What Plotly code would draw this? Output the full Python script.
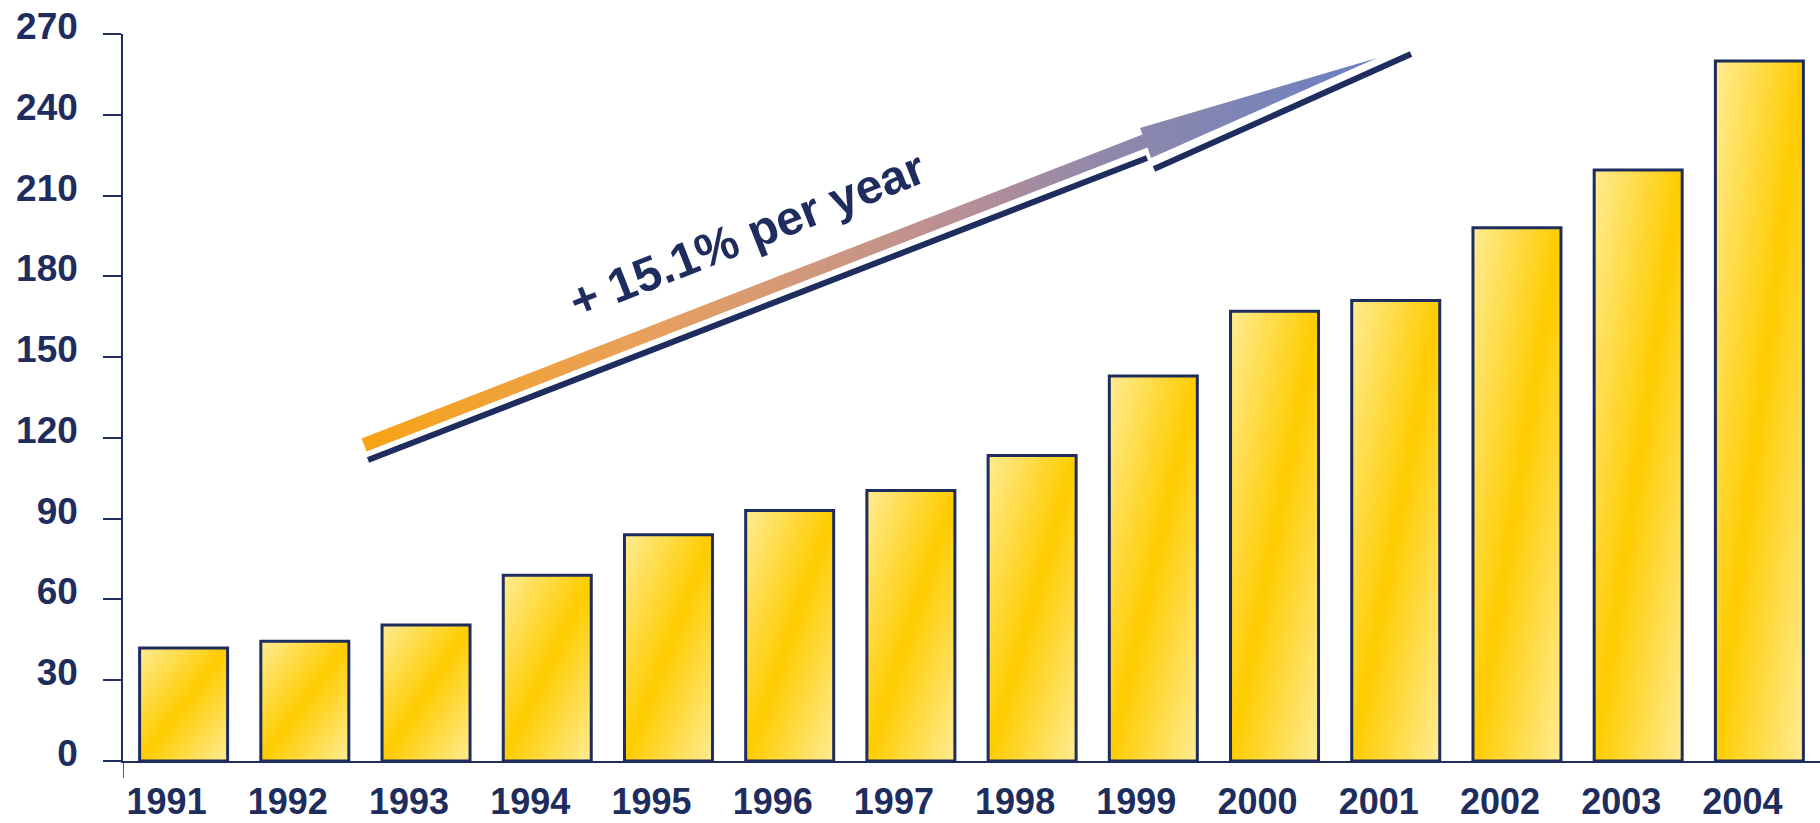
import base64
import plotly.graph_objects as go

# ---- data ----
YEARS = [1991, 1992, 1993, 1994, 1995, 1996, 1997, 1998, 1999, 2000, 2001, 2002, 2003, 2004]
YEAR_LABELS = [str(y) for y in YEARS]
VALUES = [42, 44.5, 50.5, 69, 84, 93, 100.5, 113.5, 143, 167, 171, 198, 219.5, 260]
Y_TICKS = [0, 30, 60, 90, 120, 150, 180, 210, 240, 270]
GROWTH_LABEL = "+ 15.1% per year"

# ---- style ----
NAVY = "#1E2D5E"
FONT = "Liberation Sans, Arial, sans-serif"
W, H = 1820, 823
M_L, M_R, M_T, M_B = 123, 0, 34, 62
X_RANGE = [1990.5, 2004.5]
Y_RANGE = [0, 270]
BAR_W = 0.726

PLOT_W = W - M_L - M_R
PLOT_H = H - M_T - M_B


def px_to_x(px):
    return X_RANGE[0] + (px - M_L) / PLOT_W * (X_RANGE[1] - X_RANGE[0])


def py_to_y(py):
    return Y_RANGE[1] - (py - M_T) / PLOT_H * (Y_RANGE[1] - Y_RANGE[0])


# arrow geometry (pixel positions of the decorative arrow)
ARROW_POLY_PX = [(361.5, 438.5), (1142.5, 134.5), (1140, 128), (1377, 58),
                 (1151, 158), (1147.5, 147.5), (366.5, 451.5), (361.5, 438.5)]
ARROW_GRAD = [[0, "#F8A414"], [0.284, "#E8A05E"], [0.59, "#B98F96"],
              [0.727, "#9188AA"], [1, "#6A80C0"]]
SHADOW_SEGS_PX = [((368, 460), (1147, 158)), ((1154, 169), (1411, 54))]

svg = ('<svg xmlns="http://www.w3.org/2000/svg" width="100" height="100" viewBox="0 0 100 100" '
       'preserveAspectRatio="none"><defs><linearGradient id="g" x1="0" y1="0" x2="1" y2="1">'
       '<stop offset="0" stop-color="#FFEC94"/><stop offset="0.5" stop-color="#FFCC00"/>'
       '<stop offset="1" stop-color="#FFEC94"/></linearGradient></defs>'
       '<rect width="100" height="100" fill="url(#g)"/></svg>')
GRAD_SRC = "data:image/svg+xml;base64," + base64.b64encode(svg.encode()).decode()

fig = go.Figure()

fig.add_trace(go.Bar(
    x=YEARS, y=VALUES, width=BAR_W,
    marker=dict(color="rgba(0,0,0,0)", line=dict(color=NAVY, width=3)),
    hoverinfo="x+y",
))

# gradient arrow
ax_x = [px_to_x(p[0]) for p in ARROW_POLY_PX]
ax_y = [py_to_y(p[1]) for p in ARROW_POLY_PX]
fig.add_trace(go.Scatter(
    x=ax_x, y=ax_y, mode="lines", fill="toself",
    line=dict(width=0, color="rgba(0,0,0,0)"),
    fillgradient=dict(type="horizontal", colorscale=ARROW_GRAD,
                      start=px_to_x(361), stop=px_to_x(1377)),
    hoverinfo="skip",
))

images = []
for yr, v in zip(YEARS, VALUES):
    images.append(dict(source=GRAD_SRC, xref="x", yref="y", x=yr - BAR_W / 2, y=v,
                       sizex=BAR_W, sizey=v, sizing="stretch", xanchor="left",
                       yanchor="top", layer="below"))

shapes = []
for (p0, p1) in SHADOW_SEGS_PX:
    shapes.append(dict(type="line", xref="x", yref="y",
                       x0=px_to_x(p0[0]), y0=py_to_y(p0[1]),
                       x1=px_to_x(p1[0]), y1=py_to_y(p1[1]),
                       line=dict(color=NAVY, width=6)))
# small stub under origin
shapes.append(dict(type="line", xref="x", yref="paper", x0=X_RANGE[0], x1=X_RANGE[0],
                   y0=0, y1=-17 / PLOT_H, line=dict(color=NAVY, width=1.5)))

fig.update_layout(
    width=W, height=H,
    margin=dict(l=M_L, r=M_R, t=M_T, b=M_B),
    paper_bgcolor="white", plot_bgcolor="white",
    showlegend=False,
    images=images, shapes=shapes,
    annotations=[dict(text=GROWTH_LABEL, x=px_to_x(747), y=py_to_y(234), xref="x", yref="y",
                      showarrow=False, textangle=-21.5,
                      font=dict(family=FONT, size=48, color=NAVY, weight="bold"))],
    xaxis=dict(range=X_RANGE, tickvals=YEARS, ticktext=YEAR_LABELS, showgrid=False,
               zeroline=False, showline=True, linecolor=NAVY, linewidth=1.5,
               ticks="", ticklabelstandoff=8, ticklabelshift=-17, automargin=False,
               tickfont=dict(family=FONT, size=36, color=NAVY, weight="bold")),
    yaxis=dict(range=Y_RANGE, tickvals=Y_TICKS, showgrid=False, zeroline=False,
               showline=True, linecolor=NAVY, linewidth=1.5,
               ticks="outside", ticklen=18, tickcolor=NAVY, tickwidth=1.5,
               ticklabelstandoff=18, ticklabelshift=-8, automargin=False,
               tickfont=dict(family=FONT, size=37, color=NAVY, weight="bold")),
)

fig.write_html("out.html")
